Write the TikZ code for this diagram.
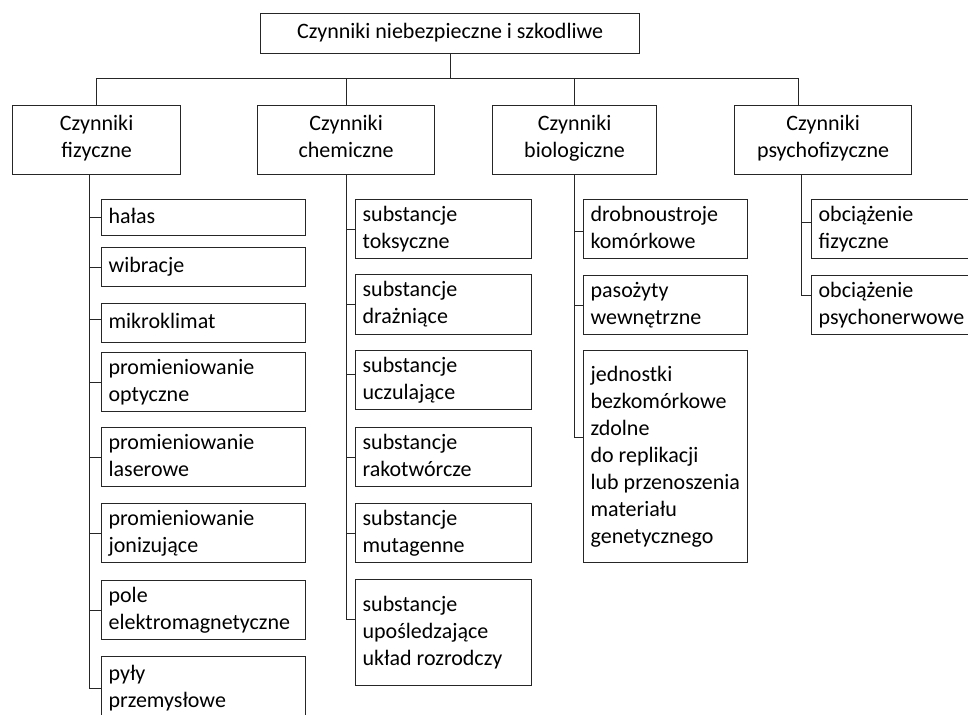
\documentclass[tikz,border=0pt]{standalone}
\usepackage{fontspec}
\setmainfont{Carlito}
\tikzset{
  ramka/.style={draw=black!85, line width=1.2pt, anchor=north west, inner sep=0pt, align=center,
    execute at begin node=\strut, execute at end node=\strut},
  lisc/.style={draw=black!85, line width=1.2pt, anchor=north west, inner xsep=7pt, inner ysep=0pt, align=flush left, text width=#1,
    execute at begin node=\strut, execute at end node=\strut},
  linia/.style={draw=black!85, line width=1.2pt},
}
\begin{document}
\begin{tikzpicture}[x=1pt, y=-1pt, font=\fontsize{22}{27}\selectfont]
    \clip (0,0) rectangle (968,714);
    % Blok główny
    \node[ramka, minimum width=379pt, minimum height=40pt] (glowny) at (260,13) {Czynniki niebezpieczne i szkodliwe};
    
    % Grupy czynników
    \node[ramka, minimum width=168pt, minimum height=69pt] (fiz) at (12,105) {Czynniki\\fizyczne};
    \node[ramka, minimum width=177pt, minimum height=69pt] (che) at (257,105) {Czynniki\\chemiczne};
    \node[ramka, minimum width=164pt, minimum height=69pt] (bio) at (492,105) {Czynniki\\biologiczne};
    \node[ramka, minimum width=177pt, minimum height=69pt] (psy) at (734,105) {Czynniki\\psychofizyczne};
    
    % Szyna pod blokiem głównym
    \path (glowny.south) ++(0,24) coordinate (szyna);
    \draw[linia] (glowny.south) -- (szyna);
    \draw[linia] (fiz.north) |- (szyna) -| ([xshift=-25pt]psy.north);
    \draw[linia] (che.north) -- (che.north |- szyna);
    \draw[linia] (bio.north) -- (bio.north |- szyna);
    
    % Czynniki fizyczne
    \node[lisc=190pt, minimum height=36pt] (f1) at (101,199) {hałas};
    \node[lisc=190pt, minimum height=39pt] (f2) at (101,247) {wibracje};
    \node[lisc=190pt, minimum height=39pt] (f3) at (101,303) {mikroklimat};
    \node[lisc=190pt, minimum height=59pt] (f4) at (101,352) {promieniowanie\\optyczne};
    \node[lisc=190pt, minimum height=59pt] (f5) at (101,427) {promieniowanie\\laserowe};
    \node[lisc=190pt, minimum height=59pt] (f6) at (101,503) {promieniowanie\\jonizujące};
    \node[lisc=190pt, minimum height=59pt] (f7) at (101,580) {pole\\elektromagnetyczne};
    \node[lisc=190pt, minimum height=64pt] (f8) at (101,656) {pyły\\przemysłowe};
    \coordinate (tf) at ([xshift=-7pt]fiz.south);
    \foreach \n/\s in {f1/0,f2/0,f3/4,f4/0,f5/0,f6/0,f7/0,f8/0}
        \draw[linia] (tf) |- ([yshift=\s pt]\n.west);
    
    % Czynniki chemiczne
    \node[lisc=162pt, minimum height=59pt] (c1) at (355,199) {substancje\\toksyczne};
    \node[lisc=162pt, minimum height=60pt] (c2) at (355,274) {substancje\\drażniące};
    \node[lisc=162pt, minimum height=59pt] (c3) at (355,350) {substancje\\uczulające};
    \node[lisc=162pt, minimum height=59pt] (c4) at (355,427) {substancje\\rakotwórcze};
    \node[lisc=162pt, minimum height=59pt] (c5) at (355,503) {substancje\\mutagenne};
    \node[lisc=162pt, minimum height=106pt] (c6) at (355,579) {substancje\\upośledzające\\układ rozrodczy};
    \coordinate (tc) at (che.south);
    \foreach \n/\s in {c1/0,c2/0,c3/6,c4/0,c5/0,c6/13}
        \draw[linia] (tc) |- ([yshift=\s pt]\n.west);
    
    % Czynniki biologiczne
    \node[lisc=150pt, minimum height=59pt] (b1) at (583,199) {drobnoustroje\\komórkowe};
    \node[lisc=150pt, minimum height=59pt] (b2) at (583,275) {pasożyty\\wewnętrzne};
    \node[lisc=150pt, minimum height=212pt] (b3) at (583,350) {jednostki\\bezkomórkowe\\zdolne\\do replikacji\\\mbox{lub przenoszenia}\\materiału\\genetycznego};
    \coordinate (tb) at (bio.south);
    \foreach \n/\s in {b1/-2,b2/0,b3/19}
        \draw[linia] (tb) |- ([yshift=\s pt]\n.west);
    
    % Czynniki psychofizyczne
    \node[lisc=160pt, minimum height=59pt] (p1) at (811,199) {obciążenie\\fizyczne};
    \node[lisc=160pt, minimum height=59pt] (p2) at (811,275) {obciążenie\\psychonerwowe};
    \coordinate (tp) at ([xshift=-22pt]psy.south);
    \foreach \n/\s in {p1/7,p2/10}
        \draw[linia] (tp) |- ([yshift=\s pt]\n.west);
\end{tikzpicture}
\end{document}
